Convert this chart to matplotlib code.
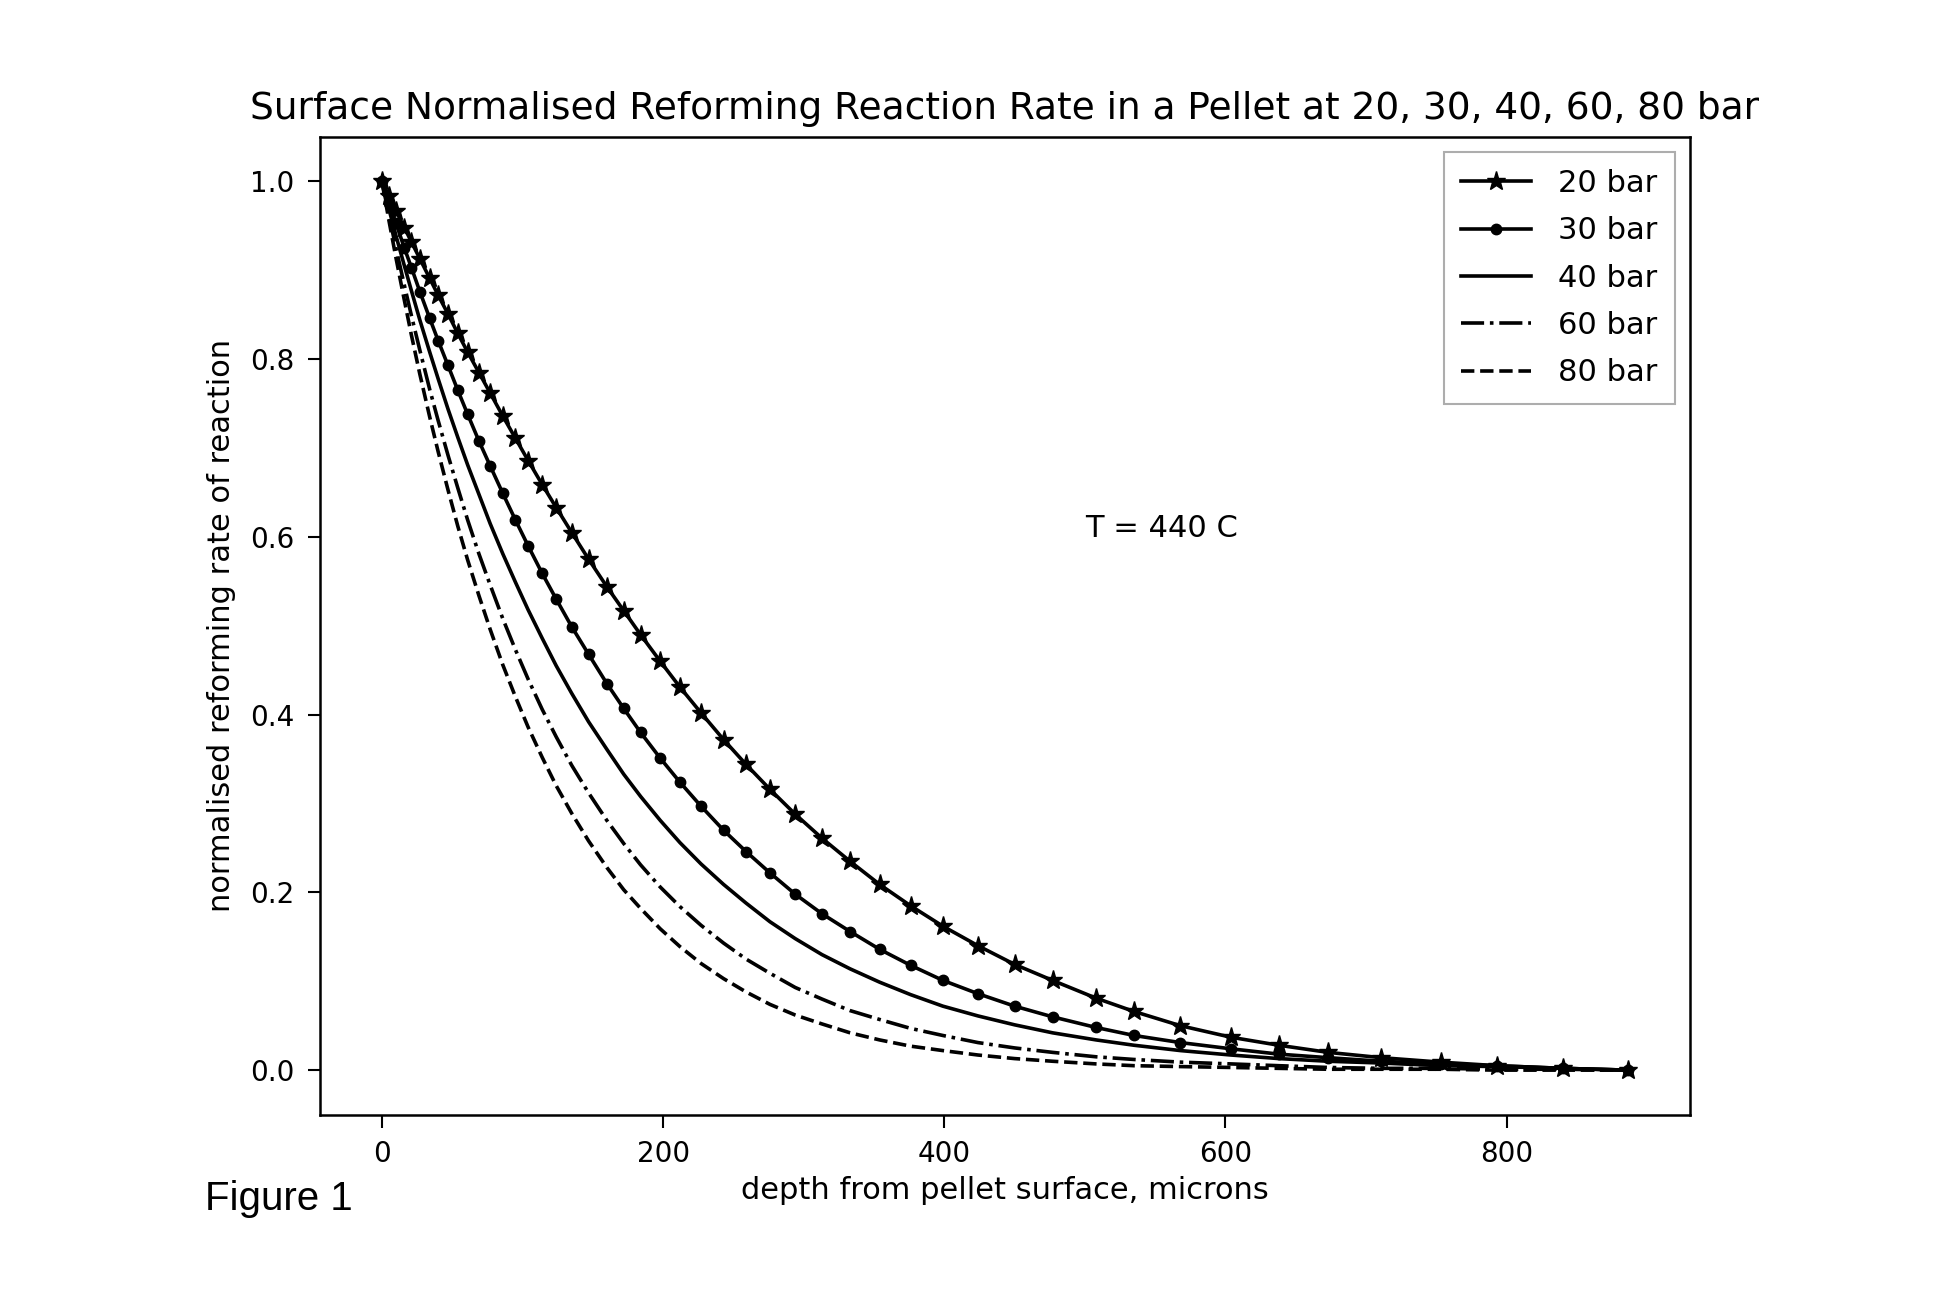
import matplotlib
matplotlib.use("Agg")
import matplotlib.pyplot as plt

depth = [0, 5, 10, 16, 21, 27, 34, 40, 47, 54, 61, 69, 77, 86, 95, 104, 114, 124, 135, 147,
         160, 172, 184, 198, 212, 227, 243, 259, 276, 294, 313, 333, 354, 376, 399, 424, 450,
         477, 508, 535, 568, 604, 638, 673, 711, 753, 793, 840, 886]

rate_20bar = [1.000, 0.984, 0.967, 0.948, 0.932, 0.913, 0.891, 0.872, 0.851, 0.829, 0.808,
              0.785, 0.762, 0.736, 0.711, 0.686, 0.659, 0.633, 0.605, 0.575, 0.544, 0.517,
              0.490, 0.460, 0.431, 0.402, 0.372, 0.344, 0.316, 0.288, 0.261, 0.235, 0.209,
              0.185, 0.162, 0.140, 0.119, 0.101, 0.081, 0.066, 0.050, 0.037, 0.028, 0.020,
              0.014, 0.009, 0.005, 0.002, 0.000]

rate_30bar = [1.000, 0.976, 0.953, 0.925, 0.903, 0.876, 0.846, 0.821, 0.793, 0.765, 0.738,
              0.708, 0.680, 0.649, 0.619, 0.590, 0.559, 0.530, 0.499, 0.468, 0.435, 0.407,
              0.380, 0.351, 0.324, 0.297, 0.270, 0.246, 0.222, 0.198, 0.176, 0.156, 0.136,
              0.118, 0.101, 0.086, 0.072, 0.060, 0.048, 0.039, 0.031, 0.024, 0.018, 0.014,
              0.010, 0.007, 0.005, 0.002, 0.000]

rate_40bar = [1.000, 0.969, 0.939, 0.905, 0.877, 0.844, 0.808, 0.778, 0.744, 0.712, 0.681,
              0.648, 0.615, 0.581, 0.549, 0.518, 0.486, 0.455, 0.424, 0.392, 0.361, 0.333,
              0.308, 0.281, 0.256, 0.232, 0.209, 0.188, 0.167, 0.148, 0.130, 0.114, 0.099,
              0.085, 0.072, 0.061, 0.051, 0.042, 0.034, 0.028, 0.022, 0.017, 0.013, 0.010,
              0.008, 0.005, 0.004, 0.002, 0.000]

rate_60bar = [1.000, 0.962, 0.925, 0.883, 0.849, 0.810, 0.766, 0.731, 0.692, 0.655, 0.619,
              0.581, 0.546, 0.508, 0.473, 0.440, 0.406, 0.375, 0.343, 0.312, 0.281, 0.255,
              0.231, 0.206, 0.184, 0.163, 0.143, 0.125, 0.109, 0.093, 0.080, 0.067, 0.057,
              0.047, 0.039, 0.031, 0.025, 0.020, 0.015, 0.012, 0.009, 0.007, 0.005, 0.003,
              0.002, 0.002, 0.001, 0.001, 0.000]

rate_80bar = [1.000, 0.956, 0.914, 0.866, 0.827, 0.783, 0.735, 0.696, 0.653, 0.612, 0.574,
              0.534, 0.496, 0.456, 0.420, 0.386, 0.352, 0.320, 0.289, 0.258, 0.228, 0.203,
              0.182, 0.159, 0.139, 0.120, 0.103, 0.088, 0.074, 0.062, 0.052, 0.042, 0.034,
              0.027, 0.022, 0.017, 0.013, 0.010, 0.007, 0.005, 0.004, 0.003, 0.002, 0.001,
              0.001, 0.001, 0.000, 0.000, 0.000]

labels = ["20 bar", "30 bar", "40 bar", "60 bar", "80 bar"]
title = "Surface Normalised Reforming Reaction Rate in a Pellet at 20, 30, 40, 60, 80 bar"

fig = plt.figure(figsize=(19.49, 12.93), dpi=100)
ax = fig.add_axes([0.164, 0.138, 0.703, 0.756])

lw = 2.6
ax.plot(depth, rate_20bar, color="black", lw=lw, marker="*", markersize=14, label=labels[0])
ax.plot(depth, rate_30bar, color="black", lw=lw, marker=".", markersize=15, label=labels[1])
ax.plot(depth, rate_40bar, color="black", lw=lw, linestyle="-", label=labels[2])
ax.plot(depth, rate_60bar, color="black", lw=lw, linestyle="-.", label=labels[3])
ax.plot(depth, rate_80bar, color="black", lw=lw, linestyle="--", label=labels[4])

ax.set_xticks([0, 200, 400, 600, 800])
ax.set_yticks([0.0, 0.2, 0.4, 0.6, 0.8, 1.0])
ax.tick_params(labelsize=20, length=9, width=1.5, pad=9)
for s in ax.spines.values():
    s.set_linewidth(1.8)

ax.set_xlabel("depth from pellet surface, microns", fontsize=22, labelpad=6)
ax.set_ylabel("normalised reforming rate of reaction", fontsize=22, labelpad=10)
ax.set_title(title, fontsize=27, pad=13)
ax.text(500, 0.6, "T = 440 C", fontsize=22)

leg = ax.legend(loc="upper right", fontsize=22, fancybox=False, handlelength=2.3,
                labelspacing=0.6, borderpad=0.55, handletextpad=0.9)
leg.get_frame().set_edgecolor("#999999")
leg.get_frame().set_linewidth(1.5)

fig.text(0.105, 0.064, "Figure 1", fontsize=29, family="Liberation Sans")

fig.savefig("out.png", dpi=100)
